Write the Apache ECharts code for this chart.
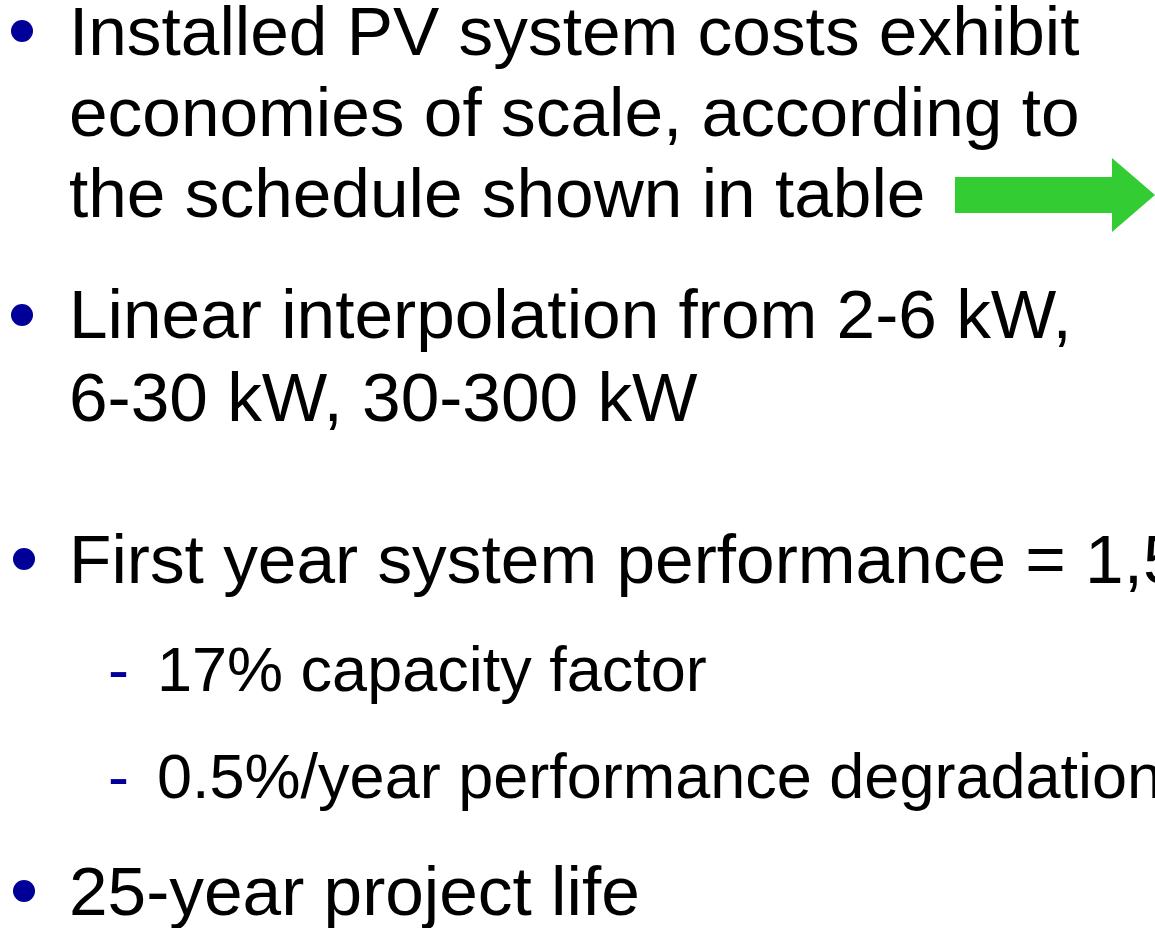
<!DOCTYPE html>
<html>
<head>
<meta charset="utf-8">
<script src="https://cdn.jsdelivr.net/npm/echarts@6/dist/echarts.min.js"></script>
<style>
  html, body { margin: 0; padding: 0; background: #ffffff; }
  #container { width: 1155px; height: 928px; }
</style>
</head>
<body>
<div id="container"></div>
<script>
// slide text, one entry per printed line
var bullet_lines = [
    ['Installed PV system costs exhibit', 'economies of scale, according to', 'the schedule shown in table'],
    ['Linear interpolation from 2-6 kW,', '6-30 kW, 30-300 kW'],
    ['First year system performance = 1,500 kWh/kW'],
    ['25-year project life']
];
var sub_lines = ['17% capacity factor', '0.5%/year performance degradation'];

// baselines
var bullet_baselines = [[57, 138, 219], [340, 423], [585], [917]];
var bullet_dots = [[22, 31], [22, 315], [24, 559], [24, 891]];
var sub_baselines = [693, 800];

var dom = document.getElementById("container");
var myChart = echarts.init(dom);
var option = null;

var textColor = '#000000';
var bulletColor = '#000099';
var arrowColor = '#33cc33';
var fontMain = 69.4;
var fontSub = 63;

function midY(baseline, fs) {
    return baseline - 0.30 * fs;
}

var elements = [];

for (var i = 0; i < bullet_lines.length; i++) {
    elements.push({
        type: 'circle',
        shape: {cx: bullet_dots[i][0], cy: bullet_dots[i][1], r: 11},
        style: {fill: bulletColor}
    });
    for (var j = 0; j < bullet_lines[i].length; j++) {
        elements.push({
            type: 'text',
            x: 69,
            y: midY(bullet_baselines[i][j], fontMain),
            style: {
                text: bullet_lines[i][j],
                fill: textColor,
                font: fontMain + 'px "Liberation Sans", Arial, sans-serif',
                verticalAlign: 'middle',
                align: 'left'
            }
        });
    }
}

for (var k = 0; k < sub_lines.length; k++) {
    elements.push({
        type: 'text',
        x: 108,
        y: midY(sub_baselines[k], fontSub),
        style: {
            text: '-',
            fill: bulletColor,
            font: fontSub + 'px "Liberation Sans", Arial, sans-serif',
            verticalAlign: 'middle'
        }
    });
    elements.push({
        type: 'text',
        x: 157,
        y: midY(sub_baselines[k], fontSub),
        style: {
            text: sub_lines[k],
            fill: textColor,
            font: fontSub + 'px "Liberation Sans", Arial, sans-serif',
            verticalAlign: 'middle'
        }
    });
}

// green arrow pointing to the table
elements.push({
    type: 'polygon',
    shape: {
        points: [[955, 177], [1112, 177], [1112, 158], [1155, 195], [1112, 232], [1112, 213], [955, 213]]
    },
    style: {fill: arrowColor}
});

option = {
    backgroundColor: '#ffffff',
    graphic: {elements: elements}
};

if (option && typeof option === "object") {
    myChart.setOption(option, true);
}
</script>
</body>
</html>
